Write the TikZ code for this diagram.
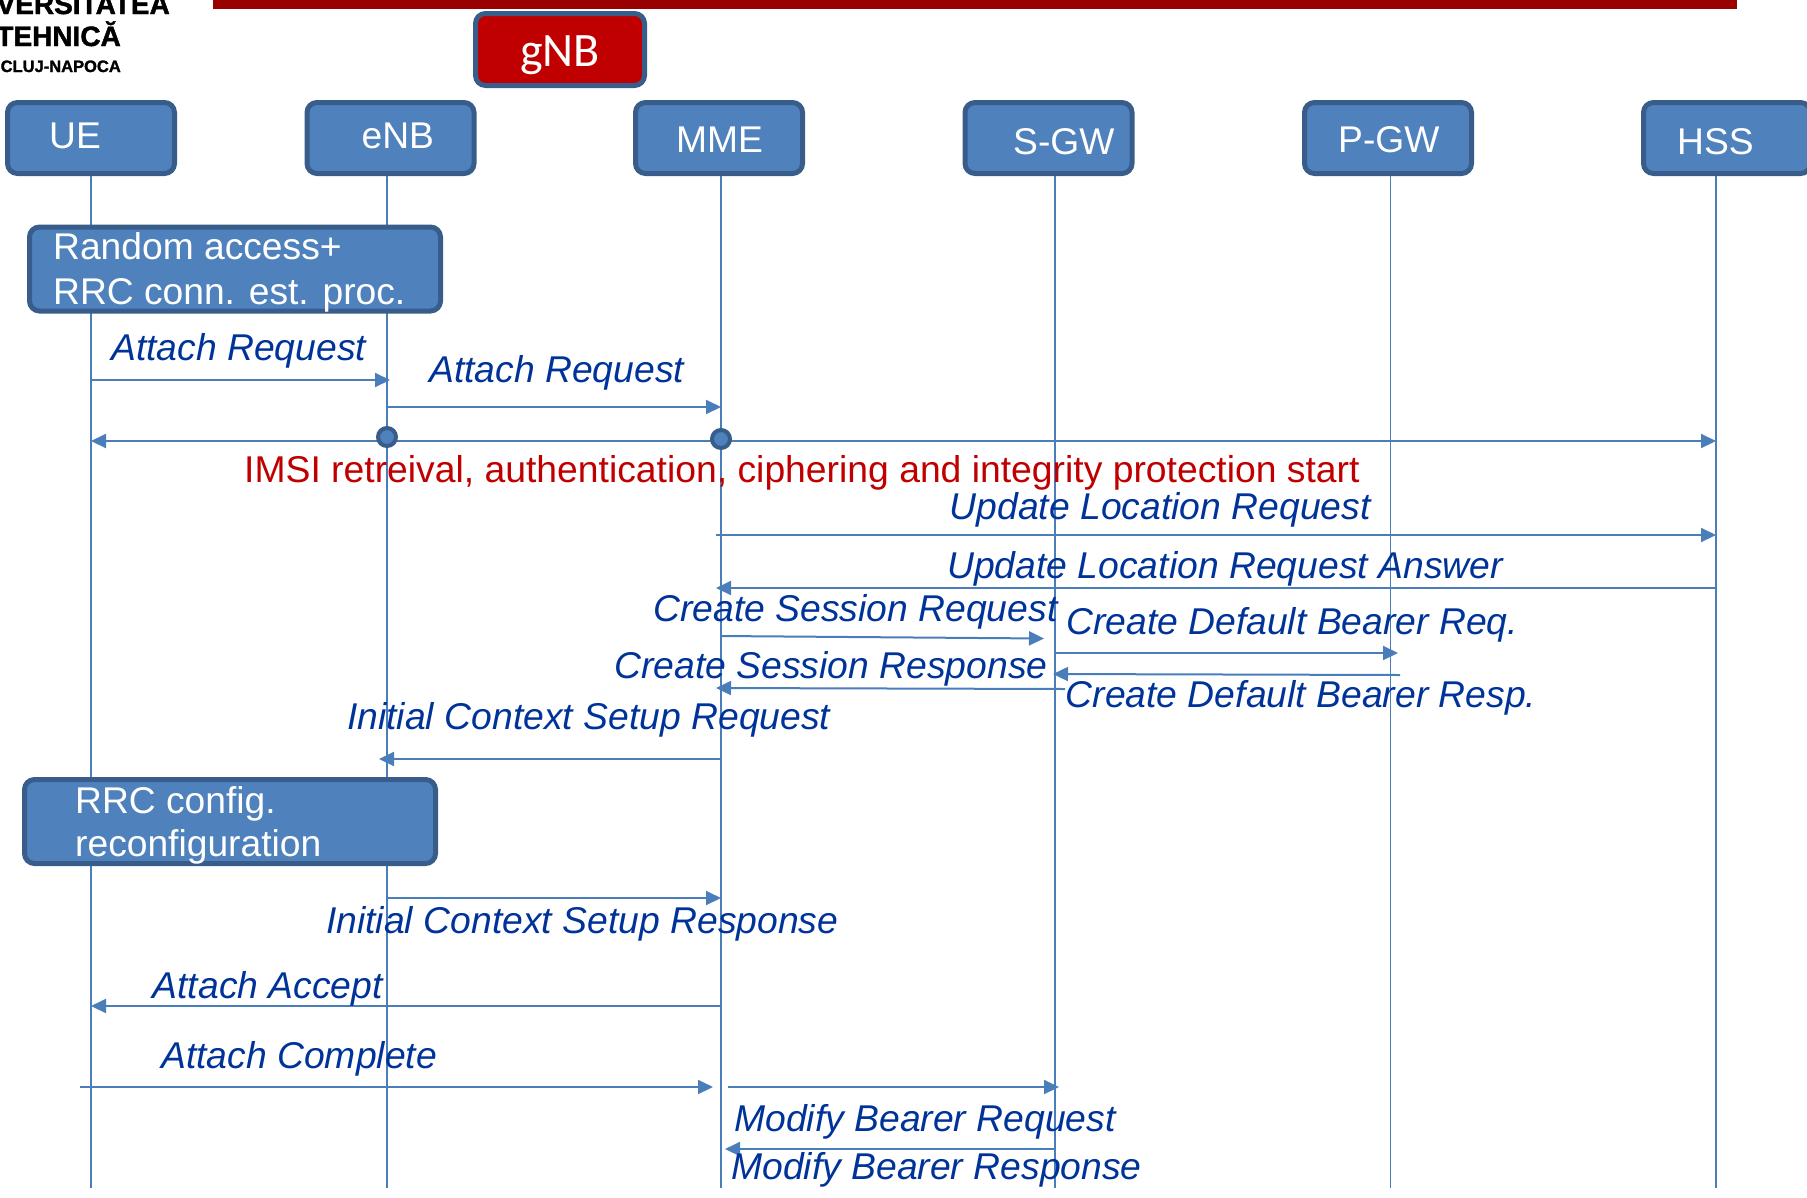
\documentclass[tikz,border=0pt]{standalone}
\usepackage{fontspec}
\setmainfont{Liberation Sans}
\newfontfamily\carlitofont{Carlito}
\newfontface\logofont{Liberation Sans Bold}[FakeBold=1.6]
\usetikzlibrary{arrows.meta,backgrounds}
\definecolor{boxfill}{HTML}{4F81BD}
\definecolor{boxedge}{HTML}{385D8A}
\definecolor{wire}{HTML}{4A7EBB}
\definecolor{msgblue}{HTML}{003399}
\definecolor{alertred}{HTML}{C00000}
\definecolor{barred}{HTML}{990000}
\tikzset{
  actorbox/.style={draw=boxedge,fill=boxfill,line width=5pt,rounded corners=10pt,inner sep=0pt,minimum width=167pt,minimum height=71pt},
  wide/.style={actorbox},
  boxtext/.style={anchor=base west,inner sep=0pt,text=white,font=\fontsize{37.2}{37.2}\selectfont},
  msg/.style={anchor=base west,inner sep=0pt,text=msgblue,font=\fontsize{37.3}{37.3}\selectfont\itshape},
  lifeline/.style={wire,line width=1.8pt},
  msgline/.style={wire,line width=2pt,-{Triangle[length=15pt,width=14pt]}},
  dotmark/.style={circle,draw=boxedge,fill=boxfill,line width=4pt,inner sep=0pt,minimum size=18pt},
  logotext/.style={anchor=base east,inner sep=0pt,text=black}
}
\begin{document}
\begin{tikzpicture}[x=1pt,y=-1pt]
\clip (0,0) rectangle (1807,1197);
\fill[barred] (213,0) rectangle (1737,9);
% logo
\node[logotext,font=\logofont\fontsize{28}{28}\selectfont] (logoa) at (170,14) {VERSITATEA};
\node[logotext,font=\logofont\fontsize{28}{28}\selectfont] (logob) at (121,46) {TEHNICĂ};
\node[logotext,font=\logofont\fontsize{16.5}{17}\selectfont] (logoc) at (121,72) {CLUJ-NAPOCA};
% actor boxes
\node[actorbox,fill=alertred,minimum width=169pt,minimum height=72pt] (gnb) at (560,49.5) {};
\node[anchor=base west,inner sep=0pt,text=white,font=\carlitofont\fontsize{48}{48}\selectfont] (gnbt) at (520,66) {gNB};
\node[actorbox] (ue) at (91,138) {};
\node[actorbox] (enb) at (390.5,138) {};
\node[actorbox] (mme) at (719,138) {};
\node[actorbox] (sgw) at (1048.5,138) {};
\node[actorbox] (pgw) at (1388,138) {};
\node[actorbox] (hss) at (1727,138) {};
\node[boxtext] (uet) at (49,148) {UE};
\node[boxtext] (enbt) at (361.5,148) {eNB};
\node[boxtext] (mmet) at (676,152) {MME};
\node[boxtext] (sgwt) at (1013,154) {S-GW};
\node[boxtext] (pgwt) at (1338,152) {P-GW};
\node[boxtext] (hsst) at (1677,154) {HSS};
% procedure boxes
\node[wide,minimum width=411pt,minimum height=84pt] (rach) at (235,269) {};
\node[boxtext] (racha) at (53,259) {Random access+};
\node[boxtext] (rachb) at (53,304.5) {RRC conn. est. proc.};
\node[wide,minimum width=411pt,minimum height=84pt] (rrc) at (230,821.5) {};
\node[boxtext] (rrca) at (75,813) {RRC config.};
\node[boxtext] (rrcb) at (75,856.5) {reconfiguration};
% lifelines
\coordinate (ueTop) at (91,175);   \coordinate (ueEnd) at (91,1188);
\coordinate (enbTop) at (387,175); \coordinate (enbEnd) at (387,1188);
\coordinate (mmeTop) at (721,175); \coordinate (mmeEnd) at (721,1188);
\coordinate (sgwTop) at (1055,175); \coordinate (sgwEnd) at (1055,1188);
\coordinate (pgwTop) at (1390.5,175); \coordinate (pgwEnd) at (1390.5,1188);
\coordinate (hssTop) at (1716,175); \coordinate (hssEnd) at (1716,1188);
\begin{scope}[on background layer]
\draw[lifeline] (ueTop) -- (ueEnd);
\draw[lifeline] (enbTop) -- (enbEnd);
\draw[lifeline] (mmeTop) -- (mmeEnd);
\draw[lifeline] (sgwTop) -- (sgwEnd);
\draw[lifeline] (pgwTop) -- (pgwEnd);
\draw[lifeline] (hssTop) -- (hssEnd);
\end{scope}
% message end points
\coordinate (a1) at (91,380);    \coordinate (b1) at (390,380);
\coordinate (a2) at (387,407);   \coordinate (b2) at (721,407);
\coordinate (a3) at (91,441);    \coordinate (b3) at (1716,441);
\coordinate (a4) at (716,535);   \coordinate (b4) at (1716,535);
\coordinate (a5) at (1716,588);  \coordinate (b5) at (716,588);
\coordinate (a6) at (720,636);   \coordinate (b6) at (1044,638.5);
\coordinate (a7) at (1054,653);  \coordinate (b7) at (1398,653);
\coordinate (a8) at (1400,675);  \coordinate (b8) at (1053,674);
\coordinate (a9) at (1065,689);  \coordinate (b9) at (716,688);
\coordinate (a10) at (721,759);  \coordinate (b10) at (379,759);
\coordinate (a11) at (387,898);  \coordinate (b11) at (721,898);
\coordinate (a12) at (721,1006); \coordinate (b12) at (91,1006);
\coordinate (a13) at (80,1087);  \coordinate (b13) at (713,1087);
\coordinate (a14) at (728,1087); \coordinate (b14) at (1059,1087);
\coordinate (a15) at (1054,1149);\coordinate (b15) at (725,1149);
\draw[msgline] (a1) -- (b1);
\draw[msgline] (a2) -- (b2);
\draw[msgline,{Triangle[length=15pt,width=14pt]}-{Triangle[length=15pt,width=14pt]}] (a3) -- (b3);
\draw[msgline] (a4) -- (b4);
\draw[msgline] (a5) -- (b5);
\draw[msgline] (a6) -- (b6);
\draw[msgline] (a7) -- (b7);
\draw[msgline] (a8) -- (b8);
\draw[msgline] (a9) -- (b9);
\draw[msgline] (a10) -- (b10);
\draw[msgline] (a11) -- (b11);
\draw[msgline] (a12) -- (b12);
\draw[msgline] (a13) -- (b13);
\draw[msgline] (a14) -- (b14);
\draw[msgline] (a15) -- (b15);
\node[dotmark] (dota) at (387,437) {};
\node[dotmark] (dotb) at (721,439) {};
% labels
\node[msg] (l1) at (111,360.5) {Attach Request};
\node[msg] (l2) at (429,382.5) {Attach Request};
\node[anchor=base west,inner sep=0pt,text=alertred,font=\fontsize{37.3}{37.3}\selectfont] (red) at (244,482) {IMSI retreival, authentication, ciphering and integrity protection start};
\node[msg] (l4) at (949.5,519) {Update Location Request};
\node[msg] (l5) at (947,578) {Update Location Request Answer};
\node[msg] (l6) at (653,621) {Create Session Request};
\node[msg] (l7) at (1066,634) {Create Default Bearer Req.};
\node[msg] (l9) at (614,678) {Create Session Response};
\node[msg] (l8) at (1065.5,707) {Create Default Bearer Resp.};
\node[msg] (l10) at (347,729) {Initial Context Setup Request};
\node[msg] (l11) at (326,933) {Initial Context Setup Response};
\node[msg] (l12) at (152.5,998) {Attach Accept};
\node[msg] (l13) at (161,1068.5) {Attach Complete};
\node[msg] (l14) at (734,1131) {Modify Bearer Request};
\node[msg] (l15) at (731,1179) {Modify Bearer Response};
\end{tikzpicture}
\end{document}
